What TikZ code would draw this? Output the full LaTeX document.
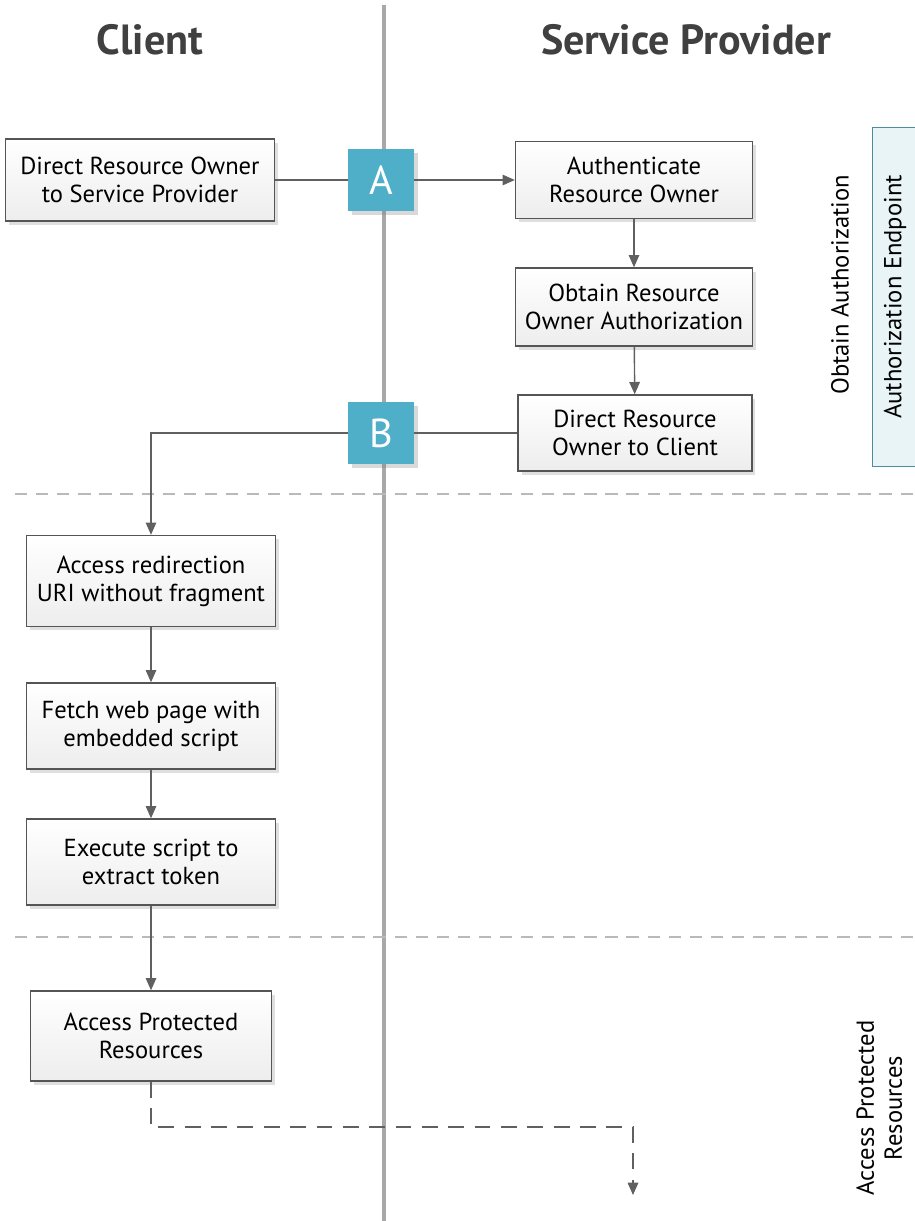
\documentclass[tikz,border=0pt]{standalone}
\usepackage{fontspec}
\setmainfont{PT Sans}
\usetikzlibrary{arrows.meta,shadows}

\definecolor{boxline}{HTML}{555555}
\definecolor{flowline}{HTML}{606060}
\definecolor{lanegray}{HTML}{A8A8A8}
\definecolor{markerblue}{HTML}{4FAFC8}
\definecolor{endpointfill}{HTML}{E9F4F7}
\definecolor{endpointline}{HTML}{4A8FA0}
\definecolor{headgray}{HTML}{404040}

\tikzset{
  stepbox/.style={draw=boxline, line width=0.8pt, top color=white, bottom color=black!7,
    drop shadow={opacity=0.25, shadow xshift=2pt, shadow yshift=-2pt},
    align=center, font=\fontsize{14}{16}\selectfont, inner sep=2pt},
  badge/.style={fill=markerblue, text=white, minimum width=1.32cm, minimum height=1.24cm,
    drop shadow={opacity=0.3, shadow xshift=2pt, shadow yshift=-2pt},
    font=\fontsize{23}{24}\selectfont, inner sep=0pt},
  flow/.style={draw=flowline, line width=0.8pt},
  tip/.style={-{Triangle[width=6pt,length=7pt]}},
  lane/.style={lanegray, line width=1.8pt},
  divider/.style={lanegray!80, line width=1.3pt, dash pattern=on 7pt off 5pt},
  heading/.style={headgray, font=\fontsize{24}{28}\selectfont\bfseries},
  phase/.style={rotate=90, align=center, font=\fontsize{14}{16}\selectfont}
}

\begin{document}
\begin{tikzpicture}[x=0.02cm, y=-0.02cm]
    \useasboundingbox (0,0) rectangle (914,1221);

    % Lane headings and separators
    \node[heading] (client) at (150,40) {Client};
    \node[heading] (provider) at (686,40) {Service Provider};
    \draw[lane] (384,5) -- (384,1221);
    \draw[divider] (15,494) -- (914,494);
    \draw[divider] (15,937) -- (914,937);

    % Phase labels on the right
    \node[draw=endpointline, fill=endpointfill, line width=0.8pt, rotate=90,
          minimum width=6.78cm, minimum height=1.4cm, anchor=north] (endpoint) at (872,297) {};
    \node[phase] (endpointtext) at (895,297) {Authorization Endpoint};
    \node[phase] (obtainphase) at (840,285) {Obtain Authorization};
    \node[phase, anchor=north, inner sep=0pt] (accessphase) at (856,1108) {Access Protected\\Resources};

    % Service provider steps
    \node[stepbox, minimum width=4.74cm, minimum height=1.54cm] (authenticate) at (634,180) {Authenticate\\Resource Owner};
    \node[stepbox, minimum width=4.74cm, minimum height=1.56cm] (authorize) at (634,307) {Obtain Resource\\Owner Authorization};
    \node[stepbox, minimum width=4.68cm, minimum height=1.52cm] (redirect) at (635,433) {Direct Resource\\Owner to Client};

    % Client steps
    \node[stepbox, minimum width=5.38cm, minimum height=1.64cm] (direct) at (140,180) {Direct Resource Owner\\to Service Provider};
    \node[stepbox, minimum width=4.98cm, minimum height=1.82cm] (access) at (151,581) {Access redirection\\URI without fragment};
    \node[stepbox, minimum width=4.98cm, minimum height=1.72cm] (fetch) at (151,726) {Fetch web page with\\embedded script};
    \node[stepbox, minimum width=4.98cm, minimum height=1.72cm] (execute) at (151,862) {Execute script to\\extract token};
    \node[stepbox, minimum width=4.82cm, minimum height=1.8cm] (protected) at (151,1036) {Access Protected\\Resources};

    % Flow markers
    \node[badge] (markerA) at (381,180) {A};
    \node[badge] (markerB) at (381,433) {B};

    % Connectors
    \draw[flow] (direct.east) -- (markerA.west);
    \draw[flow, tip] (markerA.east) -- (authenticate.west |- markerA.east);
    \draw[flow, tip] (authenticate) -- (authorize);
    \draw[flow, tip] (authorize) -- (redirect);
    \draw[flow] (redirect.west) -- (markerB.east);
    \draw[flow, tip] (markerB.west) -| (access.north);
    \draw[flow, tip] (access) -- (fetch);
    \draw[flow, tip] (fetch) -- (execute);
    \draw[flow, tip] (execute) -- (protected);
    \coordinate (resource) at (633,1195);
    \draw[flow, tip, dash pattern=on 9pt off 6pt] (protected.south) |- (633,1127) -- (resource);
\end{tikzpicture}
\end{document}
